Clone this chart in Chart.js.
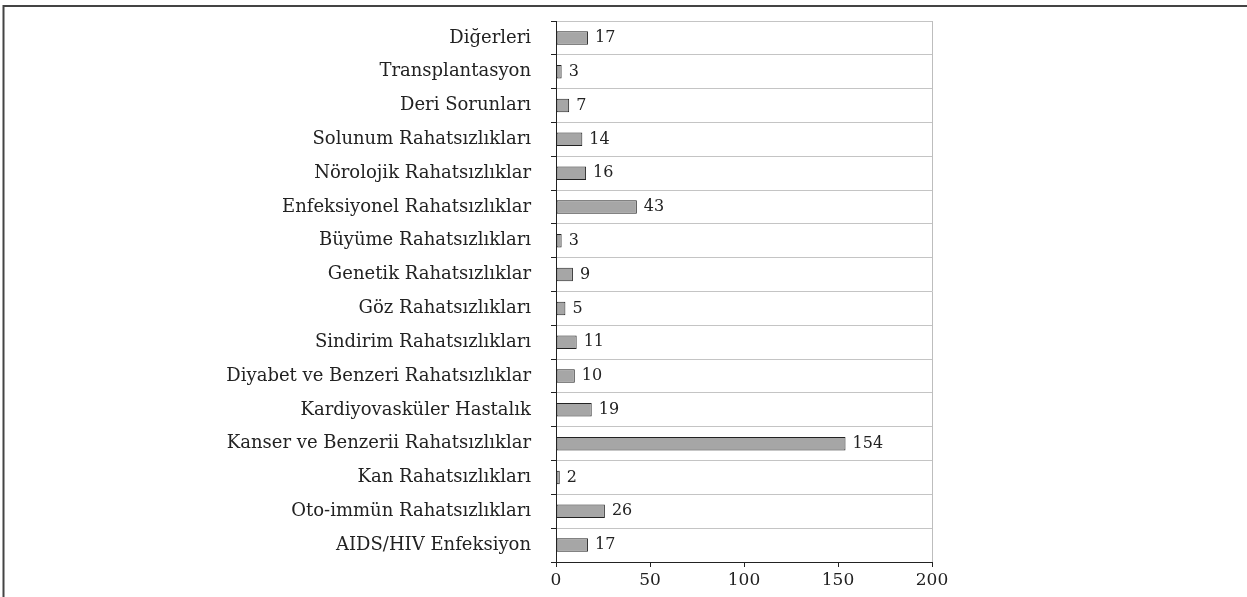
<!DOCTYPE html>
<html>
<head>
<meta charset="utf-8">
<script src="https://cdn.jsdelivr.net/npm/chart.js@4"></script>
<style>
  html, body { margin: 0; padding: 0; background: #fff; }
  #wrap { width: 1247px; height: 597px; position: relative; }
</style>
</head>
<body>
<div id="wrap"><canvas id="c" width="1247" height="597"></canvas></div>
<script>
const categories = [
  "Diğerleri",
  "Transplantasyon",
  "Deri Sorunları",
  "Solunum Rahatsızlıkları",
  "Nörolojik Rahatsızlıklar",
  "Enfeksiyonel Rahatsızlıklar",
  "Büyüme Rahatsızlıkları",
  "Genetik Rahatsızlıklar",
  "Göz Rahatsızlıkları",
  "Sindirim Rahatsızlıkları",
  "Diyabet ve Benzeri Rahatsızlıklar",
  "Kardiyovasküler Hastalık",
  "Kanser ve Benzerii Rahatsızlıklar",
  "Kan Rahatsızlıkları",
  "Oto-immün Rahatsızlıkları",
  "AIDS/HIV Enfeksiyon"
];
const counts = [17, 3, 7, 14, 16, 43, 3, 9, 5, 11, 10, 19, 154, 2, 26, 17];
const xTicks = [0, 50, 100, 150, 200];

const FONT = "'DejaVu Serif', 'Liberation Serif', serif";

// outer frame (only left + top visible in the original)
const framePlugin = {
  id: 'frame',
  beforeDraw(chart) {
    const ctx = chart.ctx;
    ctx.save();
    ctx.strokeStyle = '#444';
    ctx.lineWidth = 2;
    ctx.strokeRect(3.5, 6, 1300, 700);
    ctx.restore();
  }
};

// value labels after each bar
const valueLabels = {
  id: 'valueLabels',
  afterDatasetsDraw(chart) {
    const ctx = chart.ctx;
    const meta = chart.getDatasetMeta(0);
    ctx.save();
    ctx.font = '16px ' + FONT;
    ctx.fillStyle = '#222';
    ctx.textAlign = 'left';
    ctx.textBaseline = 'middle';
    meta.data.forEach((bar, i) => {
      ctx.fillText(String(counts[i]), bar.x + 7, bar.y);
    });
    ctx.restore();
  }
};

new Chart(document.getElementById('c'), {
  type: 'bar',
  data: {
    labels: categories,
    datasets: [{
      data: counts,
      backgroundColor: '#a6a6a6',
      borderColor: '#222',
      borderWidth: 1,
      borderSkipped: false,
      barPercentage: 0.4,
      categoryPercentage: 1
    }]
  },
  options: {
    indexAxis: 'y',
    responsive: false,
    animation: false,
    layout: { padding: { left: 0, right: 315, top: 21, bottom: 0 } },
    plugins: { legend: { display: false }, tooltip: { enabled: false } },
    scales: {
      x: {
        min: 0, max: 200,
        afterBuildTicks(axis) { axis.ticks = xTicks.map(v => ({ value: v })); },
        afterFit(axis) { axis.height = 35; axis.paddingLeft = 0; axis.paddingRight = 0; },
        border: { color: '#222', width: 1 },
        grid: {
          color: c => (c.tick && c.tick.value === 200) ? '#bdbdbd' : 'rgba(0,0,0,0)',
          tickColor: '#222',
          tickLength: 5,
          drawOnChartArea: true
        },
        ticks: { font: { family: FONT, size: 17 }, color: '#222', padding: 3 }
      },
      y: {
        afterFit(axis) { axis.width = 556; axis.paddingTop = 0; axis.paddingBottom = 0; },
        border: { color: '#222', width: 1 },
        grid: {
          offset: true,
          color: '#c4c4c4',
          tickColor: '#222',
          tickLength: 5
        },
        ticks: { font: { family: FONT, size: 18 }, color: '#222', padding: 20, autoSkip: false }
      }
    }
  },
  plugins: [framePlugin, valueLabels]
});
</script>
</body>
</html>
